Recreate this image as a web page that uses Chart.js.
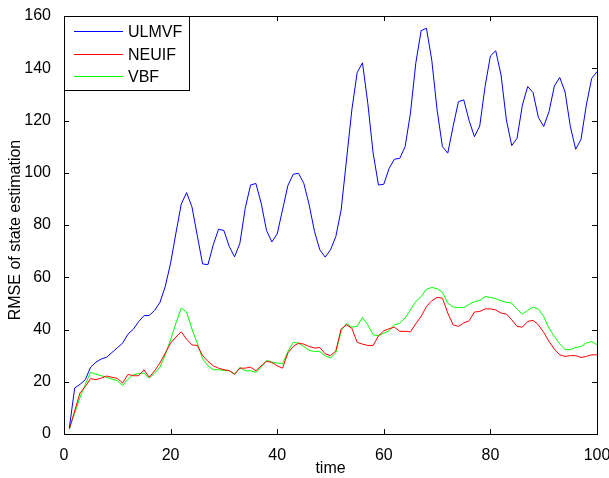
<!DOCTYPE html>
<html>
<head>
<meta charset="utf-8">
<script src="https://cdn.jsdelivr.net/npm/chart.js@4.4.1/dist/chart.umd.min.js"></script>
<style>
  html, body { margin: 0; padding: 0; background: #fff; }
  canvas { display: block; }
</style>
</head>
<body>
<canvas id="rmseChart" width="609" height="478"></canvas>
<script>
const seriesNames = ['ULMVF', 'NEUIF', 'VBF'];
const seriesColors = ['#0000ff', '#ff0000', '#00ff00'];

const ulmvf = [
  2.3, 17.6, 19, 20.8, 25.6, 27.5, 28.7, 29.4, 31.2, 33,
  34.8, 38.2, 40.1, 43, 45.3, 45.4, 47.3, 50.4, 56.5, 65.4,
  76.9, 88, 92.4, 87, 76, 65.1, 64.8, 72.4, 78.4, 77.9,
  71.8, 67.8, 73, 86.4, 95.3, 95.9, 88.3, 77.9, 73.5, 76.6,
  85.8, 95.1, 99.4, 99.8, 95.9, 87.7, 77.5, 70.5, 67.7, 70.5,
  75.6, 85.8, 104.9, 124, 138.3, 142.1, 126.6, 107.5, 95.3, 95.6,
  101.7, 105.2, 105.5, 110, 122.8, 141.9, 154.4, 155.3, 143.1, 124,
  110, 107.5, 117.7, 127.2, 127.9, 120, 113.8, 117.9, 133, 144.7,
  146.7, 137.4, 120.2, 110.4, 113.2, 125.9, 133, 130.7, 121.2, 117.7,
  123.4, 133.2, 136.5, 131, 117.7, 109, 112.8, 125.9, 136.1, 138.7
];

const neuif = [
  1.9, 8.8, 15.7, 18.2, 21.2, 20.8, 21.4, 22.2, 21.7, 21.3,
  19.5, 22.8, 22.3, 22.3, 24.6, 21.7, 24.2, 27.2, 31, 34.8,
  37.1, 39.1, 36.3, 34.1, 33.9, 30, 27.8, 26.1, 25.2, 24.6,
  24.3, 22.9, 25.2, 25.2, 25.6, 24.2, 26.1, 27.8, 27.4, 26.1,
  25.2, 31, 33.5, 34.8, 34.4, 33.5, 32.9, 33.1, 30.7, 30,
  31.8, 40.2, 41.8, 40.5, 35.1, 34.4, 33.9, 33.9, 37.6, 39.5,
  40.3, 40.9, 39.3, 39.3, 39.1, 42.2, 45, 48.8, 51, 52.3,
  52, 46.3, 41.8, 41.2, 42.5, 43.3, 46.7, 46.9, 47.9, 47.9,
  47.5, 46.3, 45.9, 43.7, 41.2, 40.9, 43.1, 43.5, 41.8, 38.9,
  35.4, 32.5, 30.3, 29.7, 30, 30, 29.3, 29.7, 30.3, 30.3
];

const vbf = [
  1.9, 8, 14, 19, 23.6, 22.9, 22.3, 21.7, 21, 20.4,
  18.5, 21, 22.7, 23.1, 23.3, 21.4, 23.3, 25.6, 30.3, 36.1,
  42.4, 48.2, 46.7, 40.2, 34.8, 28.8, 26.1, 24.6, 24.6, 24.3,
  24.2, 22.9, 25.5, 24.2, 24.2, 23.6, 25.6, 28.2, 27.5, 27.2,
  26.8, 31.6, 35.1, 34.8, 33.5, 32, 31.6, 31.6, 29.9, 29.1,
  31.1, 39.6, 42.2, 40.9, 41.2, 44.6, 41.8, 38, 37.6, 38.6,
  39.5, 41.8, 42.4, 44.4, 47.5, 50.7, 52.6, 55.4, 56.1, 55.6,
  54.3, 50.1, 48.6, 48.4, 48.4, 49.6, 50.7, 51.1, 52.6, 52.3,
  51.8, 51, 50.4, 50.1, 47.8, 45.9, 47.3, 48.6, 47.8, 45,
  40.5, 37.3, 34.5, 32.3, 32.3, 33.1, 33.5, 34.8, 35.4, 34.2
];

const xTicks = [0, 20, 40, 60, 80, 100];
const yTicks = [0, 20, 40, 60, 80, 100, 120, 140, 160];
const xTitle = 'time';
const yTitle = 'RMSE of state estimation';

const allSeries = [ulmvf, neuif, vbf];
const font = { family: "'Liberation Sans', Arial, Helvetica, sans-serif", size: 16 };

// axes box, inward ticks, axis titles and the boxed legend, MATLAB style
const framePlugin = {
  id: 'frame',
  afterDatasetsDraw(chart) {
    const ctx = chart.ctx;
    const a = chart.chartArea;
    const xs = chart.scales.x;
    const ys = chart.scales.y;
    ctx.save();
    ctx.strokeStyle = '#000';
    ctx.lineWidth = 1;
    ctx.beginPath();
    xTicks.forEach(v => {
      const px = Math.round(xs.getPixelForValue(v)) + 0.5;
      ctx.moveTo(px, a.bottom); ctx.lineTo(px, a.bottom - 5);
      ctx.moveTo(px, a.top); ctx.lineTo(px, a.top + 5);
    });
    yTicks.forEach(v => {
      const py = Math.round(ys.getPixelForValue(v)) + 0.5;
      ctx.moveTo(a.left, py); ctx.lineTo(a.left + 5, py);
      ctx.moveTo(a.right, py); ctx.lineTo(a.right - 5, py);
    });
    ctx.stroke();
    ctx.strokeRect(Math.round(a.left) + 0.5, Math.round(a.top) + 0.5,
      Math.round(a.right - a.left), Math.round(a.bottom - a.top));

    ctx.font = font.size + 'px ' + font.family;
    ctx.fillStyle = '#000';
    ctx.textAlign = 'center';
    ctx.textBaseline = 'middle';
    ctx.fillText(xTitle, (a.left + a.right) / 2, 469);
    ctx.save();
    ctx.translate(16, (a.top + a.bottom) / 2 + 5);
    ctx.rotate(-Math.PI / 2);
    ctx.fillText(yTitle, 0, 0);
    ctx.restore();

    // legend
    const lx = Math.round(a.left) + 0.5, ly = Math.round(a.top) + 0.5;
    ctx.fillStyle = '#fff';
    ctx.fillRect(lx, ly, 125, 74);
    ctx.strokeStyle = '#000';
    ctx.strokeRect(lx, ly, 125, 74);
    ctx.textAlign = 'left';
    seriesNames.forEach((name, i) => {
      const y = Math.round(a.top + 15 + i * 22.5) + 0.5;
      ctx.strokeStyle = seriesColors[i];
      ctx.beginPath();
      ctx.moveTo(a.left + 10, y); ctx.lineTo(a.left + 59, y);
      ctx.stroke();
      ctx.fillStyle = '#000';
      ctx.fillText(name, a.left + 64, y + 1);
    });
    ctx.restore();
  }
};

new Chart(document.getElementById('rmseChart'), {
  type: 'line',
  data: {
    datasets: allSeries.map((vals, i) => ({
      label: seriesNames[i],
      data: vals.map((v, k) => ({ x: k + 1, y: v })),
      borderColor: seriesColors[i],
      borderWidth: 1,
      pointRadius: 0,
      tension: 0,
      fill: false
    }))
  },
  options: {
    responsive: false,
    animation: false,
    layout: { padding: { left: 0, top: 16, right: 12, bottom: 0 } },
    plugins: {
      legend: { display: false },
      tooltip: { enabled: false }
    },
    scales: {
      x: {
        type: 'linear',
        min: 0,
        max: 100,
        afterBuildTicks: s => { s.ticks = xTicks.map(v => ({ value: v })); },
        afterFit: s => { s.height = 44; s.paddingLeft = 0; s.paddingRight = 0; },
        grid: { display: false },
        border: { display: false },
        ticks: { color: '#000', font: font, padding: 4, maxRotation: 0 }
      },
      y: {
        min: 0,
        max: 160,
        afterBuildTicks: s => { s.ticks = yTicks.map(v => ({ value: v })); },
        afterFit: s => { s.width = 64; s.paddingTop = 0; s.paddingBottom = 0; },
        grid: { display: false },
        border: { display: false },
        ticks: { color: '#000', font: font, padding: 5 }
      }
    }
  },
  plugins: [framePlugin]
});
</script>
</body>
</html>
